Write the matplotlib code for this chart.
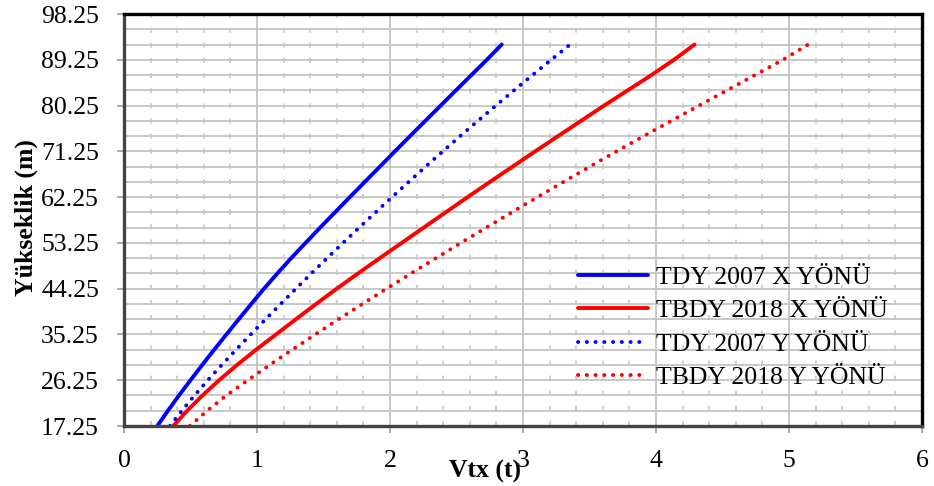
import numpy as np
import matplotlib
matplotlib.use("Agg")
import matplotlib.pyplot as plt
from matplotlib.ticker import MultipleLocator, FixedLocator

plt.rcParams['font.family'] = ['Liberation Serif', 'DejaVu Serif']

# Storey heights (m)
heights = [17.25, 20.25, 23.25, 26.25, 29.25, 32.25, 35.25, 38.25, 41.25,
           44.25, 47.25, 50.25, 53.25, 56.25, 59.25, 62.25, 65.25, 68.25,
           71.25, 74.25, 77.25, 80.25, 83.25, 86.25, 89.25, 92.25]

# Storey shear Vtx (t) for each code and direction
tdy2007_x = [0.25, 0.33, 0.413, 0.50, 0.588, 0.678, 0.77, 0.863, 0.957,
             1.053, 1.153, 1.257, 1.365, 1.475, 1.586, 1.698, 1.811, 1.924,
             2.037, 2.151, 2.266, 2.381, 2.496, 2.612, 2.728, 2.84]
tbdy2018_x = [0.37, 0.475, 0.59, 0.715, 0.85, 0.993, 1.143, 1.293, 1.445,
              1.60, 1.76, 1.923, 2.088, 2.253, 2.418, 2.584, 2.752, 2.922,
              3.092, 3.264, 3.437, 3.61, 3.788, 3.966, 4.135, 4.29]
tdy2007_y = [0.345, 0.435, 0.53, 0.63, 0.735, 0.843, 0.953, 1.065, 1.178,
             1.293, 1.409, 1.527, 1.647, 1.768, 1.891, 2.015, 2.141, 2.268,
             2.397, 2.528, 2.661, 2.796, 2.933, 3.072, 3.212, 3.354]
tbdy2018_y = [0.495, 0.625, 0.77, 0.93, 1.095, 1.265, 1.438, 1.614, 1.793,
              1.975, 2.159, 2.345, 2.533, 2.723, 2.915, 3.109, 3.305, 3.503,
              3.703, 3.908, 4.115, 4.324, 4.534, 4.744, 4.954, 5.144]

labels = ["TDY 2007 X YÖNÜ", "TBDY 2018 X YÖNÜ",
          "TDY 2007 Y YÖNÜ", "TBDY 2018 Y YÖNÜ"]

y_ticks = [17.25, 26.25, 35.25, 44.25, 53.25, 62.25, 71.25, 80.25, 89.25, 98.25]
x_ticks = [0, 1, 2, 3, 4, 5, 6]

W, H, DPI = 934, 486, 100
fig = plt.figure(figsize=(W / DPI, H / DPI), dpi=DPI)
ax = fig.add_axes([124 / W, 60 / H, 798 / W, 412 / H])

fs = 18.5
lw = 2.8
dot = (0, (0.05, 2.2))

ax.plot(tdy2007_x, heights, color='#0000ff', lw=lw, label=labels[0],
        solid_capstyle='round', solid_joinstyle='round')
ax.plot(tbdy2018_x, heights, color='#ff0000', lw=lw, label=labels[1],
        solid_capstyle='round', solid_joinstyle='round')
ax.plot(tdy2007_y, heights, color='#0000ff', lw=lw, ls=dot, label=labels[2],
        dash_capstyle='round')
ax.plot(tbdy2018_y, heights, color='#ff0000', lw=lw, ls=dot, label=labels[3],
        dash_capstyle='round')

ax.set_xlim(0, 6)
ax.set_ylim(17.25, 98.25)

ax.xaxis.set_major_locator(FixedLocator(x_ticks))
ax.xaxis.set_minor_locator(MultipleLocator(0.2))
ax.yaxis.set_major_locator(FixedLocator(y_ticks))
ax.yaxis.set_minor_locator(FixedLocator(np.arange(17.25, 98.3, 3.0)))
ax.set_xticklabels([str(v) for v in x_ticks])
ax.set_yticklabels([f"{v:.2f}" for v in y_ticks])

ax.grid(which='major', axis='x', color='#c4c4c4', lw=1.3, ls='-')
ax.grid(which='minor', axis='x', color='#c4c4c4', lw=1.1, ls=(0, (3.3, 6.6)))
ax.grid(which='both', axis='y', color='#c4c4c4', lw=1.3, ls='-')
ax.set_axisbelow(True)

ax.tick_params(which='major', direction='out', length=5, width=1.2,
               color='#a0a0a0', labelsize=fs)
ax.tick_params(axis='x', which='major', pad=8)
ax.tick_params(axis='y', which='major', pad=12)
ax.tick_params(which='minor', length=0)

for side in ('top', 'right'):
    ax.spines[side].set_color('black')
    ax.spines[side].set_linewidth(2.4)
for side in ('left', 'bottom'):
    ax.spines[side].set_color('#444444')
    ax.spines[side].set_linewidth(2.4)

ax.text(0.452, -0.124, "Vtx (t)", transform=ax.transAxes, ha='center',
        va='baseline', fontsize=fs, fontweight='bold')
ax.text(-0.1228, 0.507, "Yükseklik (m)", transform=ax.transAxes,
        ha='center', va='center', rotation=90, fontsize=fs, fontweight='bold')

ax.legend(loc='upper left', bbox_to_anchor=(578 / W, 1 - 266 / H),
          bbox_transform=fig.transFigure, frameon=False, fontsize=fs,
          handlelength=2.72, handletextpad=0.3, labelspacing=0.40,
          borderpad=0, borderaxespad=0)

# Set tick-label padding so the labels sit at fixed pixel offsets
fig.canvas.draw()
rend = fig.canvas.get_renderer()
ylab = ax.get_yticklabels()[0].get_window_extent(rend)
shift_y = ylab.x1 - 99.0
ax.tick_params(axis='y', which='major', pad=12 + shift_y * 72 / DPI)
xlab = ax.get_xticklabels()[0].get_window_extent(rend)
target_top = H - 450.0
shift_x = xlab.y1 - target_top
ax.tick_params(axis='x', which='major', pad=8 + shift_x * 72 / DPI)

fig.savefig("out.png", dpi=DPI)
